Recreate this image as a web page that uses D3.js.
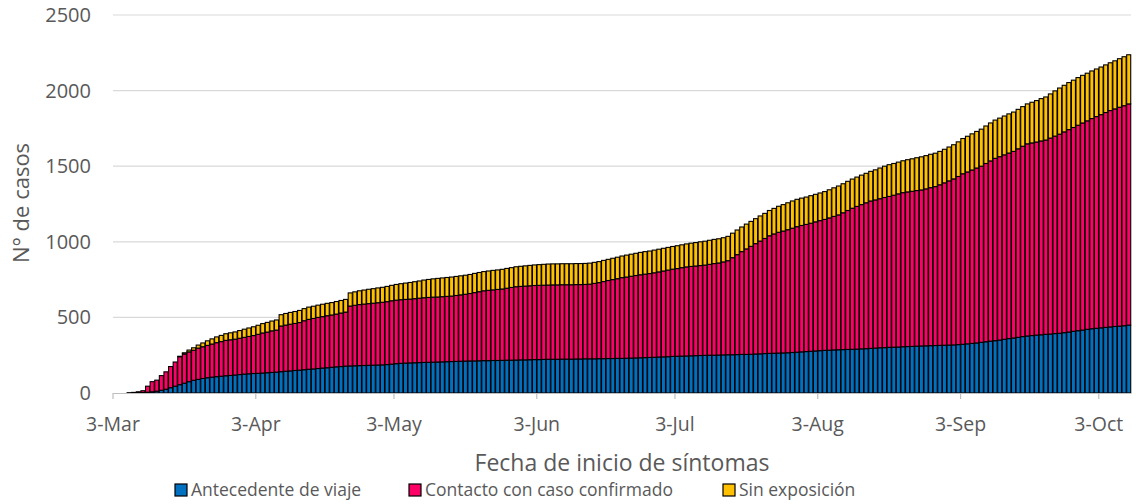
<!DOCTYPE html>
<html>
<head>
<meta charset="utf-8">
<script src="https://cdn.jsdelivr.net/npm/d3@7"></script>
<style>
  body { margin: 0; background: #fff; }
  text { font-family: "Open Sans", sans-serif; fill: #595959; }
</style>
</head>
<body>
<script>
// daily cumulative cases from 3-Mar to 9-Oct
var firstDay = new Date(2020, 2, 3), lastDay = new Date(2020, 9, 10)
var days = d3.timeDay.range(firstDay, lastDay)

var seriesNames = ["Antecedente de viaje", "Contacto con caso confirmado", "Sin exposición"]
var seriesColors = ["#0070C0", "#FF0066", "#FFC000"]

var viaje = [0,0,0,0,1,2,3,5,8,12,18,25,35,45,55,65,75,84,90,96,101,105,108,111,114,116,119,122,125,127,
  129,130,132,134,136,138,141,144,146,149,151,154,157,159,162,165,167,170,173,175,178,179,180,181,182,183,184,185,186,188,
  191,194,196,198,199,200,201,202,203,204,205,206,207,208,209,210,211,212,212,213,214,214,215,215,216,217,217,218,219,219,
  220,221,221,222,223,223,223,224,224,224,225,225,226,226,226,227,227,228,228,229,229,230,231,232,233,234,235,236,238,239,
  240,242,243,244,245,246,247,248,249,250,250,251,252,253,253,254,255,255,256,258,259,261,262,263,264,265,266,268,270,272,
  274,276,278,280,282,283,285,286,287,288,289,290,292,293,295,297,299,300,302,303,304,306,307,308,310,311,312,313,314,315,
  316,317,318,320,322,325,328,331,335,339,343,346,350,355,360,364,368,373,377,380,383,385,388,390,393,395,399,403,408,412,
  416,421,425,428,431,434,437,440,442,445,449]

var contacto = [0,0,0,2,3,6,12,40,67,73,97,115,140,160,185,193,197,199,207,210,214,219,225,229,234,236,237,240,243,247,
  251,258,265,269,275,278,302,305,309,311,315,324,330,334,338,340,344,346,349,354,357,396,400,404,406,408,410,412,414,416,
  419,420,421,421,422,424,426,428,429,430,430,431,432,433,436,439,442,446,452,457,462,465,467,470,472,476,481,485,486,488,
  489,490,491,491,491,492,492,492,492,492,492,492,492,494,499,503,510,516,522,527,534,537,541,545,549,552,555,559,563,568,
  573,577,580,585,589,591,593,595,597,601,606,609,615,622,642,661,680,698,714,730,746,761,778,789,799,806,814,822,830,836,
  841,847,854,860,866,875,883,892,905,919,933,944,954,965,975,980,986,993,998,1005,1013,1019,1023,1026,1029,1032,1038,1045,1051,1062,
  1074,1086,1098,1112,1128,1137,1147,1157,1165,1179,1192,1206,1213,1220,1227,1234,1247,1259,1271,1274,1277,1282,1285,1296,1306,1317,1328,1339,1348,1359,
  1370,1379,1390,1400,1410,1421,1431,1439,1448,1455,1463]

var sinExposicion = [0,0,0,0,0,0,0,0,0,0,0,0,0,0,3,8,12,16,20,25,30,34,38,41,44,46,48,51,54,56,
  58,60,62,64,65,67,75,77,78,79,80,80,81,81,81,82,82,82,83,83,84,87,89,91,93,95,96,98,99,101,
  102,104,106,108,110,112,114,117,119,121,123,124,125,126,126,126,126,126,127,127,127,128,129,129,130,131,131,132,133,134,
  135,136,137,138,139,139,139,139,139,139,139,139,139,139,139,139,140,140,141,142,143,145,146,147,148,149,149,150,150,150,
  150,150,151,151,152,154,155,157,158,159,160,160,160,161,162,163,163,164,165,165,166,166,167,169,172,175,178,180,181,181,
  181,182,182,183,184,186,189,191,192,193,193,194,195,195,196,199,203,207,210,210,210,211,213,215,217,219,220,221,221,221,
  222,224,226,229,233,236,239,242,245,248,251,253,255,257,259,260,261,262,264,269,274,280,285,292,299,305,308,311,313,315,
  315,315,315,315,315,315,316,318,321,324,325]

var yTicks = [0, 500, 1000, 1500, 2000, 2500]
var tickFormat = d3.timeFormat("%-d-%b")

var width = 1136, height = 504
var margin = {top: 15, right: 5, bottom: 111, left: 113}

var svg = d3.select("body").append("svg")
    .attr("width", width)
    .attr("height", height)

var rows = days.map(function(d, i) {
    return {day: d, viaje: viaje[i], contacto: contacto[i], sin: sinExposicion[i]}
})

var stack = d3.stack().keys(["viaje", "contacto", "sin"])
var layers = stack(rows)

var x = d3.scaleBand()
    .domain(days)
    .range([margin.left, width - margin.right])
    .paddingInner(0.12)
    .paddingOuter(0.06)

var y = d3.scaleLinear()
    .domain([0, 2500])
    .range([height - margin.bottom, margin.top])

// gridlines
svg.append("g")
    .selectAll("line")
    .data(yTicks.slice(1))
    .enter().append("line")
    .attr("x1", margin.left)
    .attr("x2", width - margin.right)
    .attr("y1", d => y(d))
    .attr("y2", d => y(d))
    .attr("stroke", "#d9d9d9")
    .attr("stroke-width", 1.2)

// y labels
svg.append("g")
    .selectAll("text")
    .data(yTicks)
    .enter().append("text")
    .attr("x", 91)
    .attr("y", d => y(d))
    .attr("dy", "0.35em")
    .attr("text-anchor", "end")
    .style("font-size", "20px")
    .text(d => d)

// bars
svg.append("g")
    .selectAll("g")
    .data(layers)
    .enter().append("g")
    .attr("fill", (d, i) => seriesColors[i])
    .selectAll("rect")
    .data(d => d)
    .enter().append("rect")
    .attr("x", d => x(d.data.day))
    .attr("width", x.bandwidth())
    .attr("y", d => y(d[1]))
    .attr("height", d => y(d[0]) - y(d[1]))
    .attr("stroke", "#000")
    .attr("stroke-width", 1.1)

// x axis line and ticks at the 3rd of each month
var monthTicks = days.filter(d => d.getDate() == 3)
var step = x.step()
svg.append("line")
    .attr("x1", margin.left)
    .attr("x2", width - margin.right)
    .attr("y1", y(0) + 0.5)
    .attr("y2", y(0) + 0.5)
    .attr("stroke", "#bfbfbf")
    .attr("stroke-width", 1.2)

svg.append("g")
    .selectAll("line")
    .data(monthTicks)
    .enter().append("line")
    .attr("x1", d => x(d) - step * 0.06)
    .attr("x2", d => x(d) - step * 0.06)
    .attr("y1", y(0))
    .attr("y2", y(0) + 6)
    .attr("stroke", "#bfbfbf")
    .attr("stroke-width", 1.2)

svg.append("g")
    .selectAll("text")
    .data(monthTicks)
    .enter().append("text")
    .attr("x", d => x(d) - step * 0.06)
    .attr("y", 424)
    .attr("dy", "0.35em")
    .attr("text-anchor", "middle")
    .style("font-size", "19.5px")
    .text(d => tickFormat(d))

// axis titles
svg.append("text")
    .attr("transform", "translate(21,203) rotate(-90)")
    .attr("dy", "0.35em")
    .attr("text-anchor", "middle")
    .style("font-size", "22px")
    .text("N° de casos")

svg.append("text")
    .attr("x", 622)
    .attr("y", 463)
    .attr("dy", "0.35em")
    .attr("text-anchor", "middle")
    .style("font-size", "23px")
    .text("Fecha de inicio de síntomas")

// legend
var legendX = [175, 409, 723]
var legend = svg.append("g")
    .selectAll("g")
    .data(seriesNames)
    .enter().append("g")
    .attr("transform", (d, i) => "translate(" + legendX[i] + ",490)")

legend.append("rect")
    .attr("x", 0)
    .attr("y", -6)
    .attr("width", 12)
    .attr("height", 12)
    .attr("fill", (d, i) => seriesColors[i])
    .attr("stroke", "#000")
    .attr("stroke-width", 1.2)

legend.append("text")
    .attr("x", 16)
    .attr("y", 0)
    .attr("dy", "0.35em")
    .style("font-size", "17.5px")
    .text(d => d)
</script>
</body>
</html>
